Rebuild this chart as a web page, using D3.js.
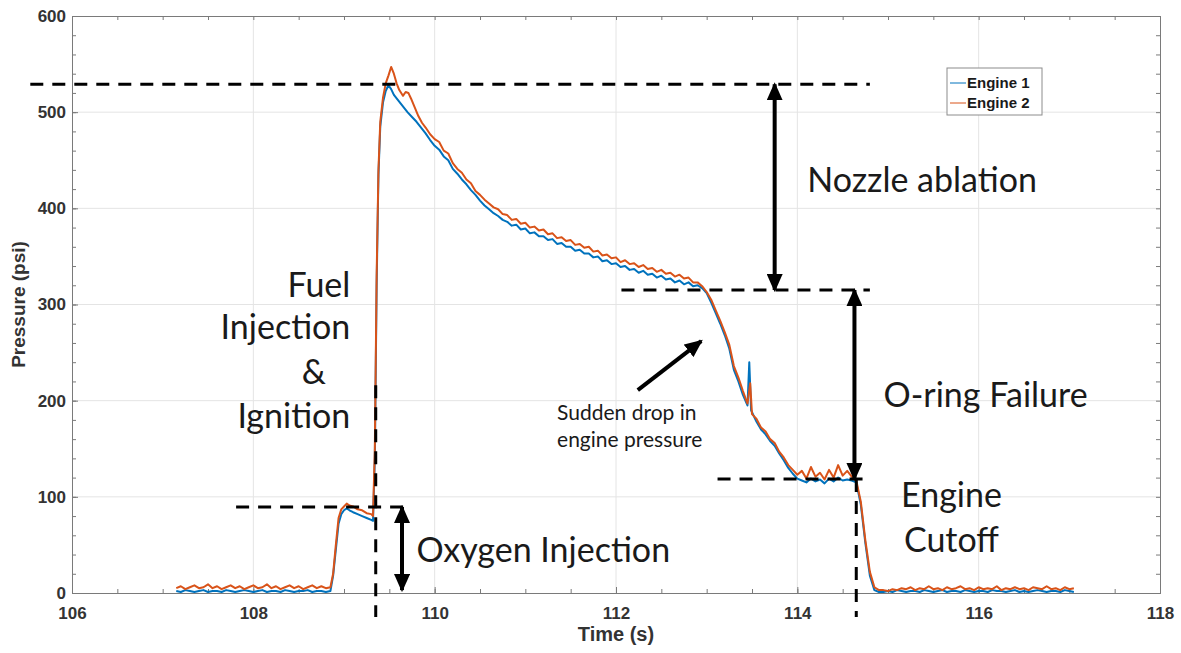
<!DOCTYPE html>
<html>
<head>
<meta charset="utf-8">
<script src="https://cdn.jsdelivr.net/npm/d3@7"></script>
<style>
	body { margin: 0; background: #fff; }
	svg text { font-family: "Liberation Sans", Arial, sans-serif; }
</style>
</head>
<body>
<div id="chart"></div>
<script>
'use strict'

/**
 * Engine pressure trace, two engines, with the firing phases marked on top.
 */

// Axis ticks
const xTicks = [106, 108, 110, 112, 114, 116, 118];
const yTicks = [0, 100, 200, 300, 400, 500, 600];

// Baseline noise, sampled every 0.05 s
const sampleStep = 0.05;
const preStart = 107.15;
const postStart = 114.95;
const engine1Pre = [2,1,3,2,1,2,3,1,2,2,1,3,2,1,2,3,2,1,2,3,1,2,2,1,3,2,1,2,2,3,1,2,2,1];
const engine2Pre = [5,7,4,6,8,5,6,9,5,7,4,6,8,5,7,4,6,8,5,6,9,5,7,4,6,8,5,7,4,6,8,5,7,5];
const engine1Post = [1,2,1,3,2,1,2,2,1,3,2,1,2,3,1,2,2,1,3,2,1,2,2,1,3,2,2,1,2,3,1,2,1,2,3,2,1,2,2,1,3,2,1];
const engine2Post = [3,2,4,3,5,4,6,3,5,4,7,4,5,3,6,4,5,7,4,5,3,6,4,5,4,7,3,5,4,6,4,5,3,6,5,4,7,4,5,3,6,4,5];

// Firing, rise and decay (time s, pressure psi)
const engine1Fire = [
	[108.85,2],[108.88,18],[108.91,45],[108.94,72],[108.97,82],[109.00,86],[109.03,88],[109.06,86],
	[109.10,84],[109.15,82],[109.20,80],[109.25,78],[109.30,76],[109.32,75],[109.34,140],[109.36,320],
	[109.38,435],[109.40,485],[109.43,510],[109.46,522],[109.49,528],[109.52,524],[109.55,518],[109.60,512],
	[109.65,506],[109.70,500],[109.75,495],[109.80,490],[109.85,484],[109.90,478],[109.95,471],
	[110.00,465],[110.05,461],[110.10,454],[110.15,450],[110.20,441],[110.25,436],[110.30,430],[110.35,425],
	[110.40,419],[110.45,414],[110.50,408],[110.55,403],[110.60,399],[110.65,395],[110.70,392],[110.75,388],
	[110.80,386],[110.85,382],[110.90,383],[110.95,378],[111.00,379],[111.05,374],[111.10,375],[111.15,371],
	[111.20,371],[111.25,367],[111.30,368],[111.35,363],[111.40,364],[111.45,360],[111.50,360],[111.55,356],
	[111.60,357],[111.65,353],[111.70,353],[111.75,349],[111.80,350],[111.85,345],[111.90,346],[111.95,342],
	[112.00,343],[112.05,339],[112.10,340],[112.15,336],[112.20,337],[112.25,333],[112.30,335],[112.35,331],
	[112.40,332],[112.45,328],[112.50,330],[112.55,326],[112.60,327],[112.65,323],[112.70,325],[112.75,321],
	[112.80,323],[112.85,319],[112.90,320],[112.95,317],
	[113.00,312],[113.05,302],[113.10,291],[113.15,280],[113.20,268],[113.25,254],[113.30,232],[113.35,220],
	[113.40,206],[113.45,195],[113.47,240],[113.49,190],[113.55,178],[113.60,170],[113.65,165],[113.70,158],
	[113.75,153],[113.80,145],[113.85,138],[113.90,130],[113.95,124],[114.00,119],[114.05,117],[114.10,115],
	[114.15,119],[114.20,116],[114.25,118],[114.30,114],[114.35,119],[114.40,116],[114.45,120],[114.50,117],
	[114.55,118],[114.60,117],[114.65,115],[114.70,92],[114.75,52],[114.80,18],[114.85,3],[114.90,1]
];
const engine2Fire = [
	[108.85,6],[108.88,20],[108.91,50],[108.94,78],[108.97,87],[109.00,90],[109.03,93],[109.06,91],
	[109.10,90],[109.15,87],[109.20,86],[109.25,83],[109.30,82],[109.32,80],[109.34,150],[109.36,330],
	[109.38,440],[109.40,490],[109.43,515],[109.46,530],[109.49,538],[109.52,547],[109.55,540],[109.58,530],
	[109.61,523],[109.65,517],[109.68,521],[109.71,520],[109.74,514],[109.78,505],[109.82,496],[109.86,489],
	[109.90,484],[109.95,477],
	[110.00,472],[110.05,469],[110.10,460],[110.15,457],[110.20,447],[110.25,441],[110.30,437],[110.35,430],
	[110.40,426],[110.45,418],[110.50,414],[110.55,409],[110.60,405],[110.65,401],[110.70,399],[110.75,394],
	[110.80,393],[110.85,388],[110.90,389],[110.95,384],[111.00,385],[111.05,380],[111.10,381],[111.15,377],
	[111.20,378],[111.25,373],[111.30,374],[111.35,369],[111.40,370],[111.45,366],[111.50,367],[111.55,362],
	[111.60,363],[111.65,359],[111.70,360],[111.75,355],[111.80,356],[111.85,351],[111.90,352],[111.95,348],
	[112.00,349],[112.05,344],[112.10,346],[112.15,342],[112.20,343],[112.25,339],[112.30,341],[112.35,337],
	[112.40,338],[112.45,334],[112.50,336],[112.55,332],[112.60,333],[112.65,329],[112.70,331],[112.75,327],
	[112.80,328],[112.85,323],[112.90,323],[112.95,319],
	[113.00,313],[113.05,305],[113.10,294],[113.15,283],[113.20,271],[113.25,258],[113.30,236],[113.35,224],
	[113.40,210],[113.45,197],[113.48,218],[113.50,186],[113.55,181],[113.60,172],[113.65,168],[113.70,160],
	[113.75,156],[113.80,147],[113.85,141],[113.90,133],[113.95,128],[114.00,123],[114.05,127],[114.10,119],
	[114.15,131],[114.20,121],[114.25,125],[114.30,118],[114.35,128],[114.40,120],[114.45,133],[114.50,122],
	[114.55,127],[114.60,121],[114.65,117],[114.70,95],[114.75,55],[114.80,22],[114.85,6],[114.90,3]
];

// Annotations, in data units (s, psi)
const dashedLines = [
	[105.54, 529, 114.80, 529],
	[112.06, 315, 114.80, 315],
	[113.12, 118.5, 114.80, 118.5],
	[107.81, 89.4, 109.73, 89.4],
	[109.35, 216, 109.35, -25],
	[114.65, 118.5, 114.65, -25]
];
const arrows = [
	[113.75, 529, 113.75, 315, true],
	[114.63, 315, 114.63, 118.5, true],
	[109.64, 89.4, 109.64, 3, true],
	[112.24, 211, 112.94, 262, false]
];
const notes = [
	{ text: 'Nozzle ablation', t: 114.11, p: 429, anchor: 'start', size: 34 },
	{ text: 'Fuel', t: 109.07, p: 320, anchor: 'end', size: 34 },
	{ text: 'Injection', t: 109.07, p: 276.5, anchor: 'end', size: 34 },
	{ text: '&', t: 108.80, p: 229.7, anchor: 'end', size: 34 },
	{ text: 'Ignition', t: 109.07, p: 184, anchor: 'end', size: 34 },
	{ text: 'O-ring Failure', t: 114.95, p: 206, anchor: 'start', size: 34 },
	{ text: 'Engine', t: 115.70, p: 102, anchor: 'middle', size: 34 },
	{ text: 'Cutoff', t: 115.70, p: 55, anchor: 'middle', size: 34 },
	{ text: 'Oxygen Injection', t: 109.80, p: 44.7, anchor: 'start', size: 34 },
	{ text: 'Sudden drop in', t: 111.35, p: 188, anchor: 'start', size: 21 },
	{ text: 'engine pressure', t: 111.35, p: 159, anchor: 'start', size: 21 }
];

const series = [
	{ name: 'Engine 1', color: '#0072BD', pre: engine1Pre, fire: engine1Fire, post: engine1Post },
	{ name: 'Engine 2', color: '#D95319', pre: engine2Pre, fire: engine2Fire, post: engine2Post }
];

const width = 1181;
const height = 653;
const margin = { top: 16, right: 21, bottom: 60, left: 72 };

const svg = d3.select('#chart')
	.append('svg')
	.attr('width', width)
	.attr('height', height);

const x = d3.scaleLinear().domain([106, 118]).range([margin.left, width - margin.right]);
const y = d3.scaleLinear().domain([0, 600]).range([height - margin.bottom, margin.top]);

const axisColor = '#7a7a7a';
const labelColor = '#333';

// Grid
svg.append('g')
	.selectAll('line.gx')
	.data(xTicks.slice(1, -1))
	.enter()
	.append('line')
		.attr('x1', d => x(d)).attr('x2', d => x(d))
		.attr('y1', y(0)).attr('y2', y(600))
		.attr('stroke', '#e4e4e4');
svg.append('g')
	.selectAll('line.gy')
	.data(yTicks.slice(1, -1))
	.enter()
	.append('line')
		.attr('x1', x(106)).attr('x2', x(118))
		.attr('y1', d => y(d)).attr('y2', d => y(d))
		.attr('stroke', '#e4e4e4');

// Axes, ticks pointing inwards, mirrored on top and right
const xMinor = d3.range(106, 118.01, 0.5);
const yMinor = d3.range(0, 600.1, 20);

function styleAxis(g) {
	g.select('.domain').attr('stroke', axisColor);
	g.selectAll('.tick line').attr('stroke', axisColor);
	g.selectAll('.tick text')
		.attr('fill', labelColor)
		.style('font-size', '17px')
		.style('font-weight', 'bold');
}

svg.append('g')
	.attr('transform', `translate(0,${y(0)})`)
	.call(d3.axisBottom(x).tickValues(xMinor).tickSize(-4).tickFormat(''))
	.call(styleAxis);
svg.append('g')
	.attr('transform', `translate(0,${y(0)})`)
	.call(d3.axisBottom(x).tickValues(xTicks).tickSize(-6).tickPadding(14).tickFormat(d3.format('d')))
	.call(styleAxis);
svg.append('g')
	.attr('transform', `translate(0,${y(600)})`)
	.call(d3.axisTop(x).tickValues(xMinor).tickSize(-4).tickFormat(''))
	.call(styleAxis);
svg.append('g')
	.attr('transform', `translate(${x(106)},0)`)
	.call(d3.axisLeft(y).tickValues(yMinor).tickSize(-4).tickFormat(''))
	.call(styleAxis);
svg.append('g')
	.attr('transform', `translate(${x(106)},0)`)
	.call(d3.axisLeft(y).tickValues(yTicks).tickSize(-6).tickPadding(6).tickFormat(d3.format('d')))
	.call(styleAxis);
svg.append('g')
	.attr('transform', `translate(${x(118)},0)`)
	.call(d3.axisRight(y).tickValues(yMinor).tickSize(-4).tickFormat(''))
	.call(styleAxis);

// Axis titles
svg.append('text')
	.attr('x', (x(106) + x(118)) / 2)
	.attr('y', 641)
	.attr('text-anchor', 'middle')
	.attr('fill', labelColor)
	.style('font-size', '20px')
	.style('font-weight', 'bold')
	.text('Time (s)');
svg.append('text')
	.attr('transform', `translate(25,${(y(0) + y(600)) / 2}) rotate(-90)`)
	.attr('text-anchor', 'middle')
	.attr('fill', labelColor)
	.style('font-size', '19px')
	.style('font-weight', 'bold')
	.text('Pressure (psi)');

// Traces
const line = d3.line()
	.x(d => x(d[0]))
	.y(d => y(d[1]));

function buildTrace(s) {
	let pts = s.pre.map((v, i) => [preStart + i * sampleStep, v]);
	pts = pts.concat(s.fire);
	pts = pts.concat(s.post.map((v, i) => [postStart + i * sampleStep, v]));
	return pts;
}

svg.append('g')
	.selectAll('path')
	.data(series)
	.enter()
	.append('path')
		.attr('d', d => line(buildTrace(d)))
		.attr('fill', 'none')
		.attr('stroke', d => d.color)
		.attr('stroke-width', 2)
		.attr('stroke-linejoin', 'round');

// Legend
const legend = svg.append('g').attr('transform', 'translate(947,68)');
legend.append('rect')
	.attr('width', 95).attr('height', 47)
	.attr('fill', '#fff')
	.attr('stroke', '#8c8c8c');
legend.selectAll('g')
	.data(series)
	.enter()
	.append('g')
		.attr('transform', (d, i) => `translate(0,${15 + i * 20})`)
		.each(function(d) {
			let g = d3.select(this);
			g.append('line')
				.attr('x1', 3).attr('x2', 19)
				.attr('stroke', d.color).attr('stroke-width', 1);
			g.append('text')
				.attr('x', 20)
				.attr('dy', '0.36em')
				.attr('fill', '#1a1a1a')
				.style('font-size', '15px')
				.style('font-weight', 'bold')
				.text(d.name);
		});

// Annotation layer
const defs = svg.append('defs');
defs.append('marker')
	.attr('id', 'head')
	.attr('viewBox', '0 0 18 16')
	.attr('refX', 16).attr('refY', 8)
	.attr('markerWidth', 18).attr('markerHeight', 16)
	.attr('markerUnits', 'userSpaceOnUse')
	.attr('orient', 'auto-start-reverse')
	.append('path')
		.attr('d', 'M0,0 L18,8 L0,16 Z')
		.attr('fill', '#000');

svg.append('g')
	.selectAll('line')
	.data(dashedLines)
	.enter()
	.append('line')
		.attr('x1', d => x(d[0])).attr('y1', d => y(d[1]))
		.attr('x2', d => x(d[2])).attr('y2', d => y(d[3]))
		.attr('stroke', '#000')
		.attr('stroke-width', 3)
		.attr('stroke-dasharray', '13,9');

svg.append('g')
	.selectAll('line')
	.data(arrows)
	.enter()
	.append('line')
		.attr('x1', d => x(d[0])).attr('y1', d => y(d[1]))
		.attr('x2', d => x(d[2])).attr('y2', d => y(d[3]))
		.attr('stroke', '#000')
		.attr('stroke-width', 4)
		.attr('marker-end', 'url(#head)')
		.attr('marker-start', d => d[4] ? 'url(#head)' : null);

svg.append('g')
	.selectAll('text')
	.data(notes)
	.enter()
	.append('text')
		.attr('x', d => x(d.t))
		.attr('y', d => y(d.p))
		.attr('dy', '0.35em')
		.attr('text-anchor', d => d.anchor)
		.attr('fill', '#1a1a1a')
		.style('font-family', 'Lato, "Open Sans", sans-serif')
		.style('font-size', d => d.size + 'px')
		.text(d => d.text);
</script>
</body>
</html>
